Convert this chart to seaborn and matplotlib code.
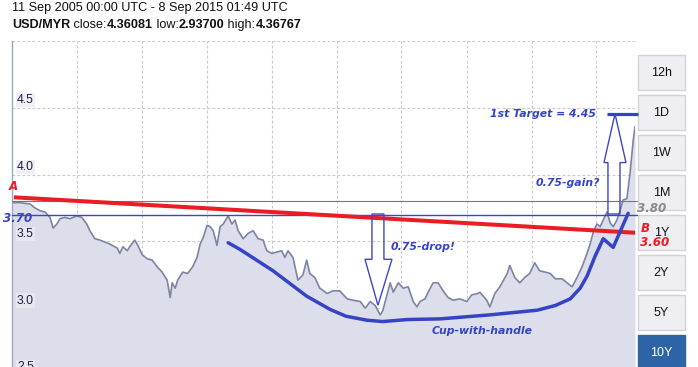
import numpy as np
import pandas as pd
import matplotlib
matplotlib.use("Agg")
import matplotlib.pyplot as plt
import seaborn as sns
from matplotlib.patches import Polygon, Rectangle

sns.set_style("white")
plt.rcParams['font.family'] = ['Liberation Sans', 'DejaVu Sans']

# ---------------- data ----------------
years = [2005.69, 2005.82, 2005.98, 2006.06, 2006.14, 2006.22, 2006.30, 2006.35, 2006.41, 2006.46,
         2006.54, 2006.62, 2006.73, 2006.81, 2006.89, 2006.94, 2007.02, 2007.10, 2007.21, 2007.26,
         2007.38, 2007.42, 2007.47, 2007.54, 2007.58, 2007.66, 2007.71, 2007.78, 2007.86, 2007.94,
         2008.02, 2008.10, 2008.18, 2008.23, 2008.26, 2008.31, 2008.35, 2008.43, 2008.51, 2008.59,
         2008.66, 2008.71, 2008.76, 2008.82, 2008.87, 2008.92, 2008.98, 2009.03, 2009.08, 2009.16,
         2009.22, 2009.27, 2009.32, 2009.40, 2009.48, 2009.56, 2009.64, 2009.72, 2009.78, 2009.86,
         2009.94, 2010.02, 2010.07, 2010.12, 2010.20, 2010.28, 2010.36, 2010.42, 2010.47, 2010.55,
         2010.63, 2010.75, 2010.84, 2010.95, 2011.07, 2011.16, 2011.28, 2011.36, 2011.44, 2011.52,
         2011.60, 2011.64, 2011.71, 2011.76, 2011.81, 2011.89, 2011.97, 2012.05, 2012.13, 2012.19,
         2012.24, 2012.32, 2012.37, 2012.45, 2012.53, 2012.61, 2012.69, 2012.77, 2012.88, 2012.99,
         2013.07, 2013.17, 2013.20, 2013.31, 2013.36, 2013.44, 2013.52, 2013.64, 2013.68, 2013.76,
         2013.84, 2013.92, 2014.00, 2014.08, 2014.16, 2014.25, 2014.33, 2014.41, 2014.52, 2014.60,
         2014.68, 2014.76, 2014.84, 2014.92, 2014.97, 2015.02, 2015.08, 2015.13, 2015.18, 2015.24,
         2015.29, 2015.34, 2015.40, 2015.45, 2015.50, 2015.56, 2015.61, 2015.66, 2015.69]
rates = [3.79, 3.79, 3.78, 3.75, 3.73, 3.72, 3.68, 3.60, 3.63, 3.67,
         3.68, 3.67, 3.69, 3.68, 3.63, 3.58, 3.52, 3.51, 3.49, 3.48,
         3.45, 3.41, 3.46, 3.43, 3.46, 3.51, 3.47, 3.40, 3.37, 3.36,
         3.31, 3.27, 3.21, 3.08, 3.19, 3.15, 3.21, 3.27, 3.26, 3.31,
         3.38, 3.48, 3.53, 3.62, 3.61, 3.58, 3.47, 3.61, 3.63, 3.69,
         3.63, 3.66, 3.58, 3.52, 3.56, 3.58, 3.52, 3.51, 3.43, 3.41,
         3.42, 3.43, 3.38, 3.43, 3.38, 3.21, 3.25, 3.36, 3.26, 3.23,
         3.15, 3.11, 3.13, 3.13, 3.07, 3.06, 3.05, 3.00, 3.05, 3.02,
         2.95, 2.98, 3.10, 3.19, 3.12, 3.19, 3.15, 3.16, 3.05, 3.01,
         3.05, 3.07, 3.12, 3.19, 3.19, 3.13, 3.08, 3.06, 3.07, 3.05,
         3.10, 3.11, 3.12, 3.06, 3.01, 3.11, 3.16, 3.26, 3.32, 3.23,
         3.19, 3.23, 3.26, 3.34, 3.28, 3.27, 3.26, 3.22, 3.22, 3.19,
         3.16, 3.23, 3.31, 3.41, 3.48, 3.57, 3.63, 3.61, 3.66, 3.72,
         3.64, 3.61, 3.66, 3.73, 3.81, 3.82, 4.01, 4.25, 4.36]

y_gridlines = [2.5, 3.0, 3.5, 4.0, 4.5, 5.0]
y_labels = ["2.5", "3.0", "3.5", "4.0", "4.5"]
x_gridlines = [2006.73, 2007.77, 2008.82, 2009.86, 2010.90, 2011.94, 2012.99, 2014.03, 2015.07]

level_380 = 3.80
level_370 = 3.70
target = 4.45
resist_A = (2005.72, 3.83)
resist_B = (2015.69, 3.565)

cup_x = [2009.16, 2009.35, 2009.88, 2010.42, 2010.80, 2011.05, 2011.39, 2011.64, 2012.03, 2012.56,
         2013.36, 2014.12, 2014.41, 2014.65, 2014.81, 2014.92, 2015.05, 2015.18, 2015.34, 2015.58]
cup_y = [3.49, 3.44, 3.28, 3.09, 2.99, 2.94, 2.91, 2.90, 2.915, 2.92,
         2.95, 2.985, 3.02, 3.07, 3.15, 3.24, 3.39, 3.52, 3.455, 3.71]

buttons = ["12h", "1D", "1W", "1M", "1Y", "2Y", "5Y", "10Y"]
active_button = "10Y"

title_line1 = "11 Sep 2005 00:00 UTC - 8 Sep 2015 01:49 UTC"
title_runs = [("USD/MYR", True), (" close:", False), ("4.36081", True), (" low:", False),
              ("2.93700", True), (" high:", False), ("4.36767", True)]

# ---------------- figure ----------------
W, H = 698, 367
fig = plt.figure(figsize=(W / 100, H / 100), dpi=100)
fig.patch.set_facecolor("white")

# background / overlay axes in pixel coordinates (buttons + title)
axb = fig.add_axes([0, 0, 1, 1], zorder=0)
axb.set_xlim(0, W)
axb.set_ylim(H, 0)
axb.axis("off")

for i, lab in enumerate(buttons):
    top = 55 + 40 * i
    active = lab == active_button
    axb.add_patch(Rectangle((638, top), 47, 35 if not active else 40,
                            facecolor="#2c64a6" if active else "#efeff3",
                            edgecolor="#2c64a6" if active else "#d2d2da", lw=1))
    axb.text(661.5, top + 18, lab, ha="center", va="center", fontsize=9,
             color="white" if active else "#111111")

axb.text(12, 8.5, title_line1, ha="left", va="center", fontsize=9.1, color="#111111")
fig.canvas.draw()
rend = fig.canvas.get_renderer()
xc = 12
for s, b in title_runs:
    t = axb.text(xc, 25, s, ha="left", va="center", fontsize=9.1, color="#111111",
                 fontweight="bold" if b else "normal")
    bb = t.get_window_extent(rend)
    xc += bb.width

# main chart axes
top_px, bot_px = 41, 375
ax = fig.add_axes([12 / W, 1 - bot_px / H, 623 / W, (bot_px - top_px) / H], zorder=1)
ax.set_facecolor("none")
ax.set_xlim(2005.69, 2015.69)
ax.set_ylim(2.5, 5.0)

df = pd.DataFrame({"year": years, "rate": rates})
ax.fill_between(df["year"], df["rate"], 2.5, color="#dcdeeb", lw=0, zorder=1)
sns.lineplot(data=df, x="year", y="rate", ax=ax, color="#7d84a2", lw=1.2, zorder=2)

ax.set_xticks(x_gridlines)
ax.set_yticks(y_gridlines)
ax.grid(True, ls=(0, (2.5, 2)), color="#c9c9c9", lw=0.8, zorder=0)
ax.tick_params(labelleft=False, labelbottom=False, length=0)
ax.set_xlabel("")
ax.set_ylabel("")
for sp in ["top", "right", "bottom"]:
    ax.spines[sp].set_visible(False)
ax.spines["left"].set_color("#9ea6c6")
ax.spines["left"].set_linewidth(1.0)

for lab in y_labels:
    ax.text(2005.77, float(lab) + 0.012, lab, ha="left", va="bottom", fontsize=8.8,
            color="#1c1c4e", zorder=3, clip_on=False,
            bbox=dict(boxstyle="square,pad=0.1", fc="#ececf2", ec="none", alpha=0.8))

blue = "#3544c6"
# horizontal levels
ax.plot([2005.69, 2015.72], [level_380, level_380], color="#777777", lw=0.8, zorder=3, clip_on=False)
ax.plot([2005.69, 2015.72], [level_370, level_370], color="#3c46c4", lw=1.0, zorder=3, clip_on=False)
# resistance line A-B
ax.plot([resist_A[0], resist_B[0]], [resist_A[1], resist_B[1]], color="#ec1c24", lw=2.9,
        zorder=4, solid_capstyle="butt", clip_on=False)
# cup with handle
ax.plot(cup_x, cup_y, color=blue, lw=2.5, zorder=5, solid_joinstyle="round", solid_capstyle="round")
# target
ax.plot([2015.24, 2015.74], [target, target], color=blue, lw=2.3, zorder=5, clip_on=False,
        solid_capstyle="butt")

# hollow arrows
down = [(2011.468, 3.705), (2011.468, 3.366), (2011.356, 3.366), (2011.564, 3.022),
        (2011.789, 3.366), (2011.66, 3.366), (2011.66, 3.705)]
up = [(2015.256, 3.705), (2015.256, 4.09), (2015.192, 4.09), (2015.369, 4.455),
      (2015.545, 4.09), (2015.449, 4.09), (2015.449, 3.705)]
for pts in (down, up):
    ax.add_patch(Polygon(pts, closed=True, fill=False, edgecolor="#3c46c8", lw=1.0, zorder=6))

tfont = dict(family="DejaVu Sans", fontweight="bold", fontstyle="italic")
ax.text(2013.36, 4.455, "1st Target = 4.45", color=blue, fontsize=7.8, ha="left", va="center", zorder=7, **tfont)
ax.text(2014.10, 3.94, "0.75-gain?", color=blue, fontsize=7.8, ha="left", va="center", zorder=7, **tfont)
ax.text(2011.77, 3.455, "0.75-drop!", color=blue, fontsize=7.8, ha="left", va="center", zorder=7, **tfont)
ax.text(2012.42, 2.83, "Cup-with-handle", color=blue, fontsize=7.8, ha="left", va="center", zorder=7, **tfont)

lfont = dict(family="DejaVu Sans", fontweight="bold", fontstyle="italic", fontsize=8.6)
ax.text(2005.64, 3.91, "A", color="#ec1c24", ha="left", va="center", zorder=7, clip_on=False, **lfont)
ax.text(2005.55, 3.67, "3.70", color="#3c46c4", ha="left", va="center", zorder=7, clip_on=False, **lfont)
ax.text(2015.72, 3.746, "3.80", color="#8a8a8a", ha="left", va="center", zorder=7, clip_on=False, **lfont)
ax.text(2015.79, 3.60, "B", color="#ec1c24", ha="left", va="center", zorder=7, clip_on=False, **lfont)
ax.text(2015.77, 3.49, "3.60", color="#ec1c24", ha="left", va="center", zorder=7, clip_on=False, **lfont)

fig.savefig("out.png", dpi=100, facecolor="white")
